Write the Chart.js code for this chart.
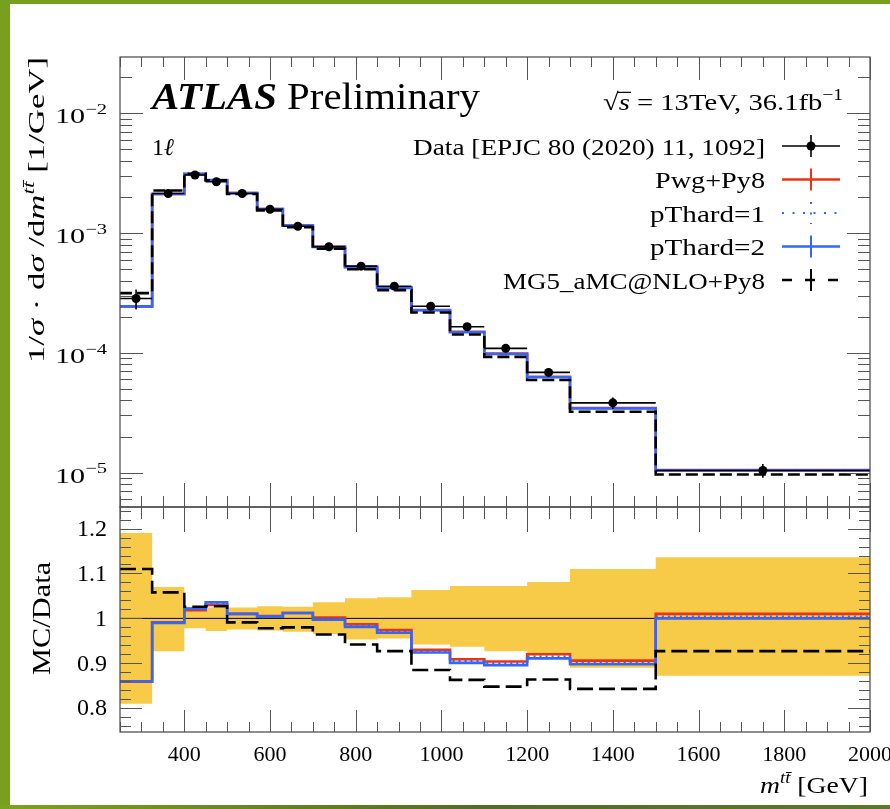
<!DOCTYPE html>
<html lang="en">
<head>
<meta charset="UTF-8">
<title>ATLAS m(tt) 1l - MC/Data</title>
<script src="https://cdn.jsdelivr.net/npm/chart.js@4.4.1/dist/chart.umd.min.js"></script>
<style>
  html, body { margin: 0; padding: 0; }
  body { width: 890px; height: 809px; position: relative; overflow: hidden; background: #78a01c; }
  #paper { position: absolute; left: 10px; top: 4px; width: 880px; height: 801px; background: #fff; }
  #foot { position: absolute; left: 0; top: 805px; width: 890px; height: 4px;
          background: linear-gradient(to right, #7aa41c, #4e6e24 55%, #5a7a2a); }
  canvas { position: absolute; left: 0; top: 0; }
</style>
</head>
<body>
<div id="paper"></div>
<div id="foot"></div>
<canvas id="mainChart" width="890" height="809"></canvas>
<canvas id="ratioChart" width="890" height="809"></canvas>
<script>
// bins of m(tt) in GeV
const binEdges = [250, 325, 400, 450, 500, 570, 630, 700, 775, 850, 930, 1020, 1100, 1200, 1300, 1500, 2000];

// 1/sigma dsigma/dm [1/GeV]
const dataXsec = [2.84e-4, 2.14e-3, 3.05e-3, 2.68e-3, 2.14e-3, 1.58e-3, 1.14e-3, 7.68e-4,
                  5.29e-4, 3.60e-4, 2.45e-4, 1.65e-4, 1.09e-4, 6.86e-5, 3.82e-5, 1.04e-5];
const xsecPwg  = [2.440e-4, 2.121e-3, 3.105e-3, 2.760e-3, 2.161e-3, 1.588e-3, 1.154e-3, 7.695e-4,
                  5.221e-4, 3.506e-4, 2.279e-4, 1.500e-4, 9.854e-5, 6.311e-5, 3.461e-5, 1.050e-5];
const xsecPt1  = [2.442e-4, 2.121e-3, 3.111e-3, 2.768e-3, 2.161e-3, 1.588e-3, 1.154e-3, 7.680e-4,
                  5.205e-4, 3.496e-4, 2.271e-4, 1.493e-4, 9.810e-5, 6.277e-5, 3.446e-5, 1.044e-5];
const xsecPt2  = [2.442e-4, 2.119e-3, 3.117e-3, 2.776e-3, 2.161e-3, 1.586e-3, 1.154e-3, 7.657e-4,
                  5.189e-4, 3.485e-4, 2.264e-4, 1.487e-4, 9.766e-5, 6.249e-5, 3.430e-5, 1.040e-5];
const xsecMG5  = [3.152e-4, 2.264e-3, 3.129e-3, 2.752e-3, 2.121e-3, 1.545e-3, 1.117e-3, 7.404e-4,
                  4.983e-4, 3.337e-4, 2.168e-4, 1.424e-4, 9.243e-5, 5.927e-5, 3.220e-5, 9.641e-6];

// MC/Data
const ratioPwg = [0.859, 0.991, 1.018, 1.030, 1.010, 1.005, 1.012, 1.002, 0.987, 0.974, 0.930, 0.909, 0.904, 0.920, 0.906, 1.010];
const ratioPt1 = [0.860, 0.991, 1.020, 1.033, 1.010, 1.005, 1.012, 1.000, 0.984, 0.971, 0.927, 0.905, 0.900, 0.915, 0.902, 1.004];
const ratioPt2 = [0.860, 0.990, 1.022, 1.036, 1.010, 1.004, 1.012, 0.997, 0.981, 0.968, 0.924, 0.901, 0.896, 0.911, 0.898, 1.000];
const ratioMG5 = [1.110, 1.058, 1.026, 1.027, 0.991, 0.978, 0.980, 0.964, 0.942, 0.927, 0.885, 0.863, 0.848, 0.864, 0.843, 0.927];

// data uncertainty band (relative)
const dataBandUp   = [1.190, 1.070, 1.026, 1.024, 1.024, 1.027, 1.026, 1.036, 1.045, 1.047, 1.063, 1.072, 1.072, 1.081, 1.110, 1.136];
const dataBandDown = [0.810, 0.927, 0.978, 0.972, 0.975, 0.973, 0.970, 0.965, 0.953, 0.955, 0.942, 0.937, 0.927, 0.919, 0.890, 0.872];

const seriesNames = ['Data [EPJC 80 (2020) 11, 1092]', 'Pwg+Py8', 'pThard=1', 'pThard=2', 'MG5_aMC@NLO+Py8'];

// tick labels
const xTickLabels = [400, 600, 800, 1000, 1200, 1400, 1600, 1800, 2000];
const logTickExponents = [-5, -4, -3, -2];
const ratioTickLabels = ['0.8', '0.9', '1', '1.1', '1.2'];

const RED = '#EE3311', BLUE = '#3366FF', YELLOW = '#F7CB48';
const SERIF = '"Liberation Serif", "DejaVu Serif", serif';

// histogram helpers
function steps(vals) {
    const pts = vals.map((v, i) => ({ x: binEdges[i], y: v }));
    pts.push({ x: binEdges[binEdges.length - 1], y: vals[vals.length - 1] });
    return pts;
}
function binCenters() {
    return dataXsec.map((v, i) => (binEdges[i] + binEdges[i + 1]) / 2);
}
function hbars(vals) {
    const pts = [];
    vals.forEach((v, i) => {
        pts.push({ x: binEdges[i], y: v }, { x: binEdges[i + 1], y: v }, { x: binEdges[i + 1], y: null });
    });
    return pts;
}
function vbars(vals) {
    const c = binCenters();
    const pts = [];
    vals.forEach((v, i) => {
        pts.push({ x: c[i], y: v * dataBandDown[i] }, { x: c[i], y: v * dataBandUp[i] }, { x: c[i], y: null });
    });
    return pts;
}

// text with italic / bold / superscript pieces, optionally squeezed to a width
function richText(ctx, parts, x, y, size, align, fitWidth) {
    const fontOf = p => (p.i ? 'italic ' : '') + (p.b ? 'bold ' : '') + (p.sup ? size * 0.68 : size) + 'px ' + SERIF;
    let total = 0;
    parts.forEach(p => { ctx.font = fontOf(p); p.w = ctx.measureText(p.t).width; total += p.w; });
    const k = fitWidth ? fitWidth / total : 1;
    const start = align === 'right' ? x - total * k : align === 'center' ? x - total * k / 2 : x;
    ctx.save();
    ctx.translate(start, y);
    ctx.scale(k, 1);
    ctx.textAlign = 'left';
    ctx.textBaseline = 'alphabetic';
    ctx.fillStyle = '#000';
    let cx = 0;
    parts.forEach(p => {
        ctx.font = fontOf(p);
        ctx.fillText(p.t, cx, p.sup ? -size * 0.42 : 0);
        if (p.over) ctx.fillRect(cx - 1, -size * 0.76, p.w + 2, Math.max(1, size * 0.05));
        cx += p.w;
    });
    ctx.restore();
}

function drawFrame(ctx, a) {
    ctx.save();
    ctx.strokeStyle = '#444';
    ctx.lineWidth = 1.2;
    ctx.strokeRect(a.left, a.top, a.right - a.left, a.bottom - a.top);
    ctx.restore();
}

function drawXTicks(ctx, xs, a, topLen, botLen) {
    ctx.save();
    ctx.strokeStyle = '#555';
    ctx.lineWidth = 1;
    for (let v = 250; v <= 2000; v += 50) {
        const px = Math.round(xs.getPixelForValue(v)) + 0.5;
        const major = v % 200 === 0;
        ctx.beginPath();
        ctx.moveTo(px, a.top);
        ctx.lineTo(px, a.top + (major ? topLen[0] : topLen[1]));
        ctx.moveTo(px, a.bottom);
        ctx.lineTo(px, a.bottom - (major ? botLen[0] : botLen[1]));
        ctx.stroke();
    }
    ctx.restore();
}

function drawYTick(ctx, a, py, len) {
    py = Math.round(py) + 0.5;
    ctx.beginPath();
    ctx.moveTo(a.left, py); ctx.lineTo(a.left + len, py);
    ctx.moveTo(a.right, py); ctx.lineTo(a.right - len, py);
    ctx.stroke();
}

function legendSample(ctx, kind, cy) {
    const x0 = 782, x1 = 840, cx = 811;
    ctx.save();
    ctx.lineCap = 'butt';
    if (kind === 0) {
        ctx.strokeStyle = '#000'; ctx.lineWidth = 1.6;
        ctx.beginPath(); ctx.moveTo(x0, cy); ctx.lineTo(x1, cy); ctx.moveTo(cx, cy - 11); ctx.lineTo(cx, cy + 11); ctx.stroke();
        ctx.fillStyle = '#000'; ctx.beginPath(); ctx.arc(cx, cy, 4.5, 0, Math.PI * 2); ctx.fill();
    } else {
        const col = kind === 1 ? RED : kind === 4 ? '#000' : BLUE;
        ctx.strokeStyle = col; ctx.lineWidth = 2.5;
        if (kind === 2) { ctx.setLineDash([2, 8.5]); ctx.lineWidth = 2; }
        if (kind === 4) ctx.setLineDash([10, 13]);
        ctx.beginPath(); ctx.moveTo(x0, cy); ctx.lineTo(x1, cy); ctx.stroke();
        if (kind !== 2) ctx.setLineDash([]);
        ctx.lineWidth = 2;
        ctx.beginPath(); ctx.moveTo(cx, cy - 11); ctx.lineTo(cx, cy + 11); ctx.stroke();
    }
    ctx.restore();
}

const mainDecor = {
    id: 'mainDecor',
    afterDraw(chart) {
        const ctx = chart.ctx, a = chart.chartArea;
        const xs = chart.scales.x, ys = chart.scales.y;
        drawFrame(ctx, a);
        drawXTicks(ctx, xs, a, [23, 10], [24, 11]);
        ctx.save();
        ctx.strokeStyle = '#555'; ctx.lineWidth = 1;
        for (let d = -6; d <= -1; d++) {
            for (let m = 1; m <= 9; m++) {
                const v = m * Math.pow(10, d);
                if (v < ys.min || v > ys.max) continue;
                drawYTick(ctx, a, ys.getPixelForValue(v), m === 1 ? 23 : 12);
            }
        }
        ctx.restore();
        logTickExponents.forEach(e => {
            const py = ys.getPixelForValue(Math.pow(10, e));
            richText(ctx, [{ t: '10' }, { t: '\u2212' + (-e), sup: true }], 107, py + 10, 22, 'right', 52);
        });
        // labels
        richText(ctx, [{ t: 'ATLAS', b: true, i: true }, { t: ' Preliminary' }], 152, 109, 38, 'left', 328);
        richText(ctx, [{ t: '\u221A' }, { t: 's', i: true, over: true }, { t: ' = 13TeV, 36.1fb' }, { t: '\u22121', sup: true }],
                 843, 110, 24, 'right', 240);
        richText(ctx, [{ t: '1' }, { t: '\u2113', i: true }], 152, 155, 24, 'left');
        const rows = [146, 179.5, 213, 246.5, 280];
        const widths = [352, 110, 115, 115, 262];
        seriesNames.forEach((name, i) => {
            richText(ctx, [{ t: name }], 765, rows[i] + 8.5, 24, 'right', widths[i]);
            legendSample(ctx, i, rows[i]);
        });
        // y title
        ctx.save();
        ctx.translate(44, 57);
        ctx.rotate(-Math.PI / 2);
        richText(ctx, [{ t: '1/' }, { t: '\u03C3', i: true }, { t: ' \u00B7 d' }, { t: '\u03C3', i: true }, { t: ' /d' },
                       { t: 'm', i: true }, { t: 'tt\u0304', i: true, sup: true }, { t: ' [1/GeV]' }], 0, 0, 24, 'right', 306);
        ctx.restore();
    }
};

const ratioDecor = {
    id: 'ratioDecor',
    afterDraw(chart) {
        const ctx = chart.ctx, a = chart.chartArea;
        const xs = chart.scales.x, ys = chart.scales.y;
        drawFrame(ctx, a);
        drawXTicks(ctx, xs, a, [25, 12], [22, 10]);
        ctx.save();
        ctx.strokeStyle = '#555'; ctx.lineWidth = 1;
        for (let k = 38; k <= 62; k++) {
            const v = k * 0.02;
            if (v < ys.min || v > ys.max) continue;
            drawYTick(ctx, a, ys.getPixelForValue(v), k % 5 === 0 ? 22 : 11);
        }
        ctx.restore();
        ctx.save();
        ctx.fillStyle = '#000';
        ctx.font = '24px ' + SERIF;
        ctx.textAlign = 'right';
        ctx.textBaseline = 'middle';
        ratioTickLabels.forEach(l => ctx.fillText(l, 107, ys.getPixelForValue(parseFloat(l)) + 1));
        ctx.textAlign = 'center';
        ctx.textBaseline = 'alphabetic';
        ctx.font = '22px ' + SERIF;
        xTickLabels.forEach(v => ctx.fillText(String(v), xs.getPixelForValue(v), 761));
        ctx.restore();
        richText(ctx, [{ t: 'm', i: true }, { t: 'tt\u0304', i: true, sup: true }, { t: ' [GeV]' }], 868, 793, 24, 'right', 108);
        ctx.save();
        ctx.translate(50, ys.getPixelForValue(1));
        ctx.rotate(-Math.PI / 2);
        richText(ctx, [{ t: 'MC/Data' }], 0, 0, 25, 'center', 113);
        ctx.restore();
    }
};

function lineSet(label, pts, color, width, dash, order) {
    return { label, data: pts, stepped: true, borderColor: color, borderWidth: width, borderDash: dash || [],
             pointRadius: 0, fill: false, order };
}

const common = {
    responsive: false,
    animation: false,
    devicePixelRatio: 1,
    events: [],
    plugins: { legend: { display: false }, tooltip: { enabled: false } }
};

const centers = binCenters();
new Chart(document.getElementById('mainChart'), {
    type: 'line',
    data: {
        datasets: [
            { label: seriesNames[0], data: centers.map((x, i) => ({ x, y: dataXsec[i] })), showLine: false,
              pointRadius: 4.5, pointBackgroundColor: '#000', pointBorderWidth: 0, order: 0 },
            { label: 'data xerr', data: hbars(dataXsec), borderColor: '#000', borderWidth: 1.6, pointRadius: 0, spanGaps: false, order: 1 },
            { label: 'data yerr', data: vbars(dataXsec), borderColor: '#000', borderWidth: 1.6, pointRadius: 0, spanGaps: false, order: 1 },
            lineSet(seriesNames[4], steps(xsecMG5), '#000', 2.6, [12, 5], 2),
            lineSet(seriesNames[3], steps(xsecPt2), BLUE, 2.6, null, 3),
            lineSet(seriesNames[2], steps(xsecPt1), BLUE, 2, [2, 4], 4),
            lineSet(seriesNames[1], steps(xsecPwg), RED, 2.6, null, 5)
        ]
    },
    options: Object.assign({}, common, {
        layout: { padding: { left: 120, top: 57, right: 20, bottom: 302 } },
        scales: {
            x: { type: 'linear', min: 250, max: 2000, display: false },
            y: { type: 'logarithmic', min: 5.16e-6, max: 2.95e-2, display: false }
        }
    }),
    plugins: [mainDecor]
});

new Chart(document.getElementById('ratioChart'), {
    type: 'line',
    data: {
        datasets: [
            lineSet(seriesNames[4], steps(ratioMG5), '#000', 2.6, [16, 6], 1),
            lineSet(seriesNames[3], steps(ratioPt2), BLUE, 2.6, null, 2),
            lineSet(seriesNames[2], steps(ratioPt1), BLUE, 2, [2, 4], 3),
            lineSet(seriesNames[1], steps(ratioPwg), RED, 2.6, null, 4),
            { label: 'unity', data: [{ x: 250, y: 1 }, { x: 2000, y: 1 }], borderColor: '#000', borderWidth: 1, pointRadius: 0, order: 5 },
            { label: 'band up', data: steps(dataBandUp), stepped: true, borderWidth: 0, pointRadius: 0,
              backgroundColor: YELLOW, fill: '+1', order: 6 },
            { label: 'band down', data: steps(dataBandDown), stepped: true, borderWidth: 0, pointRadius: 0, fill: false, order: 7 }
        ]
    },
    options: Object.assign({}, common, {
        layout: { padding: { left: 120, top: 507, right: 20, bottom: 77 } },
        scales: {
            x: { type: 'linear', min: 250, max: 2000, display: false },
            y: { type: 'linear', min: 0.747, max: 1.248, display: false }
        }
    }),
    plugins: [ratioDecor]
});
</script>
</body>
</html>
